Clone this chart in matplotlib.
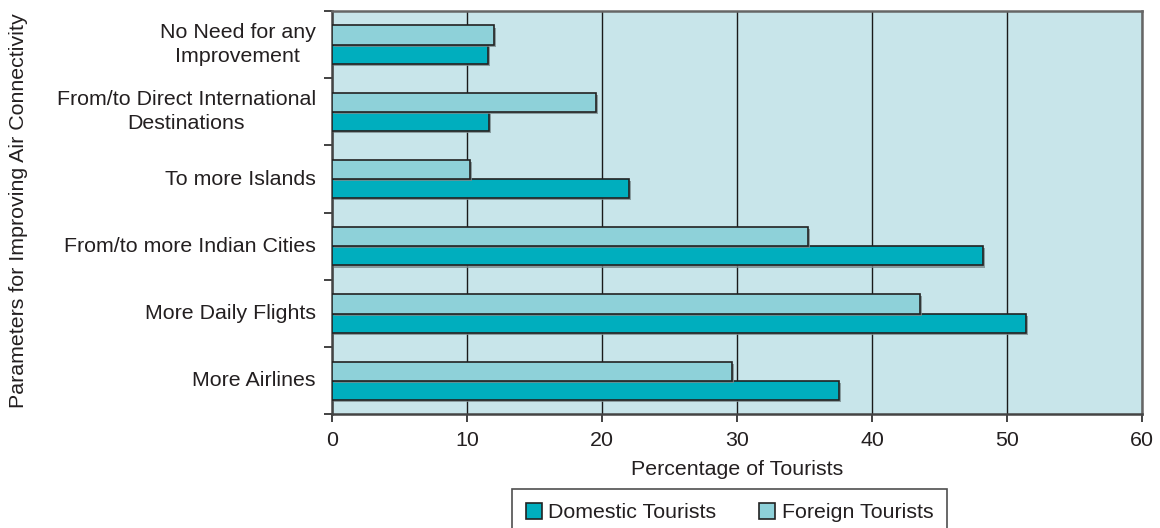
import matplotlib
matplotlib.use("Agg")
import matplotlib.pyplot as plt
import matplotlib.patheffects as pe
from matplotlib.patches import Patch
import numpy as np

plt.rcParams['font.family'] = ['Liberation Sans', 'DejaVu Sans']

# Categories listed from bottom to top of the chart
categories = [
    "More Airlines",
    "More Daily Flights",
    "From/to more Indian Cities",
    "To more Islands",
    "From/to Direct International\nDestinations",
    "No Need for any\nImprovement",
]
domestic = [37.5, 51.4, 48.2, 22.0, 11.6, 11.5]
foreign = [29.6, 43.5, 35.2, 10.2, 19.5, 12.0]
x_ticks = [0, 10, 20, 30, 40, 50, 60]

c_dom = "#00AEBE"
c_for = "#8ED1D9"
c_bg = "#C8E5EA"
c_edge = "#222222"
c_text = "#231F20"
fs = 15.4

fig = plt.figure(figsize=(11.6, 5.28), dpi=100)
ax = fig.add_axes([0.2865, 0.2153, 0.6983, 0.7638])
ax.set_facecolor(c_bg)

y = np.arange(len(categories))
h = 0.285
shadow = [pe.SimplePatchShadow(offset=(1.5, -1.5), shadow_rgbFace="#7a8a8d", alpha=0.8), pe.Normal()]
bd = ax.barh(y - h / 2, domestic, height=h, color=c_dom, edgecolor=c_edge, linewidth=1.2, zorder=3)
bf = ax.barh(y + h / 2, foreign, height=h, color=c_for, edgecolor=c_edge, linewidth=1.2, zorder=3)
for bar in list(bd) + list(bf):
    bar.set_path_effects(shadow)

ax.set_xlim(0, 60)
ax.set_ylim(-0.5, len(categories) - 0.5)
ax.set_xticks(x_ticks)
ax.set_xticklabels([str(v) for v in x_ticks])
ax.xaxis.grid(True, color="#1a1a1a", linewidth=1.0, zorder=1)
ax.set_axisbelow(True)

# Tick marks at category boundaries, labels at category centers
ax.set_yticks(np.arange(-0.5, len(categories), 1.0))
ax.set_yticklabels([])
ax.set_yticks(y, minor=True)
ax.set_yticklabels(categories, minor=True, fontsize=fs, multialignment="center",
                   linespacing=1.35, va="center")
ax.tick_params(axis="y", which="minor", length=0, pad=12)
ax.tick_params(axis="y", which="major", length=6, width=1.2, color="#222222", direction="out")
ax.tick_params(axis="x", length=6, width=1.2, color="#222222", direction="out", labelsize=fs, pad=6)
for lab in ax.get_yticklabels(minor=True):
    lab.set_color(c_text)
for lab in ax.get_xticklabels():
    lab.set_color(c_text)

for side in ["top", "right"]:
    ax.spines[side].set_color("#666666")
    ax.spines[side].set_linewidth(1.8)
for side in ["left", "bottom"]:
    ax.spines[side].set_color("#444444")
    ax.spines[side].set_linewidth(1.8)

ax.set_xlabel("Percentage of Tourists", fontsize=fs, color=c_text, labelpad=7)
fig.text(19 / 1160, 1 - 211 / 528, "Parameters for Improving Air Connectivity",
         rotation=90, ha="center", va="center", fontsize=15.4, color=c_text)

handles = [Patch(facecolor=c_dom, edgecolor=c_edge, linewidth=1.2),
           Patch(facecolor=c_for, edgecolor=c_edge, linewidth=1.2)]
leg = fig.legend(handles, ["Domestic Tourists", "Foreign Tourists"], ncol=2,
                 loc="upper center", bbox_to_anchor=(729.5 / 1160, 1 - 489 / 528),
                 fontsize=fs, frameon=True, fancybox=False, edgecolor="#222222",
                 handlelength=0.75, handleheight=0.75, handletextpad=0.3,
                 columnspacing=2.0, borderpad=0.65, borderaxespad=0)
leg.get_frame().set_linewidth(1.2)
for t in leg.get_texts():
    t.set_color(c_text)

fig.savefig("out.png", dpi=100)
